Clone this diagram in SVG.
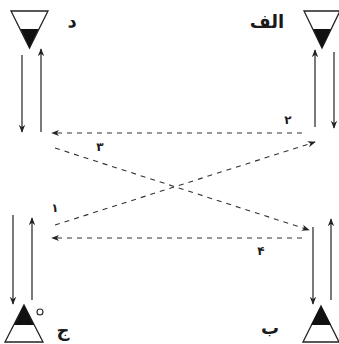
<svg xmlns="http://www.w3.org/2000/svg" width="339" height="344" viewBox="0 0 339 344">
<style>
.tri{fill:#fff;stroke:#222;stroke-width:1.3}
.fill{fill:#111}
.s{stroke:#333;stroke-width:1.3;fill:none}
.d{stroke:#333;stroke-width:1.1;fill:none;stroke-dasharray:5 5}
.lbl{font-family:"DejaVu Sans",sans-serif;font-weight:bold;font-size:18px;fill:#1a1a1a}
.num{font-family:"DejaVu Sans",sans-serif;font-weight:bold;font-size:12px;fill:#1a1a1a}
</style>
<defs>
<marker id="ah" viewBox="0 0 10 10" refX="9" refY="5" markerWidth="8" markerHeight="8" markerUnits="userSpaceOnUse" orient="auto">
<path d="M0,1 L10,5 L0,9 L3,5 Z" fill="#222"/>
</marker>
</defs>
<g id="node-d">
<polygon class="tri" points="11,11 48,11 29.5,48"/>
<polygon class="fill" points="20.5,29 38.5,29 29.5,48"/>
<text class="lbl" x="72" y="27" text-anchor="middle">د</text>
</g>
<g id="node-alef">
<polygon class="tri" points="304,11 340,11 322,48"/>
<polygon class="fill" points="313,29 331,29 322,48"/>
<text class="lbl" x="267" y="28" text-anchor="middle">الف</text>
</g>
<g id="node-jim">
<polygon class="tri" points="24,305 43,342 5,342"/>
<polygon class="fill" points="24,305 34,325 14,325"/>
<circle cx="40" cy="312" r="3" fill="#fff" stroke="#222" stroke-width="1.1"/>
<text class="lbl" x="63" y="336" text-anchor="middle">ج</text>
</g>
<g id="node-be">
<polygon class="tri" points="321,306 339,342 303,342"/>
<polygon class="fill" points="321,306 331,325 311,325"/>
<text class="lbl" x="270" y="334" text-anchor="middle">ب</text>
</g>
<g id="connectors">
<line class="s" x1="22" y1="55" x2="22" y2="132" marker-end="url(#ah)"/>
<line class="s" x1="41" y1="132" x2="41" y2="49" marker-end="url(#ah)"/>
<line class="s" x1="315" y1="127" x2="315" y2="50" marker-end="url(#ah)"/>
<line class="s" x1="334" y1="52" x2="334" y2="128" marker-end="url(#ah)"/>
<line class="s" x1="13" y1="215" x2="13" y2="304" marker-end="url(#ah)"/>
<line class="s" x1="32" y1="300" x2="32" y2="218" marker-end="url(#ah)"/>
<line class="s" x1="313" y1="227" x2="313" y2="304" marker-end="url(#ah)"/>
<line class="s" x1="331" y1="300" x2="331" y2="219" marker-end="url(#ah)"/>
<line class="d" x1="302" y1="133" x2="52" y2="133" marker-end="url(#ah)"/>
<line class="d" x1="302" y1="238" x2="52" y2="238" marker-end="url(#ah)"/>
<line class="d" x1="55" y1="148" x2="309" y2="230" marker-end="url(#ah)"/>
<line class="d" x1="55" y1="225" x2="315" y2="142" marker-end="url(#ah)"/>
<text class="num" x="288" y="124" text-anchor="middle">٢</text>
<text class="num" x="100" y="151" text-anchor="middle">٣</text>
<text class="num" x="55" y="212" text-anchor="middle">١</text>
<text class="num" x="261" y="255" text-anchor="middle">۴</text>
</g>
</svg>
